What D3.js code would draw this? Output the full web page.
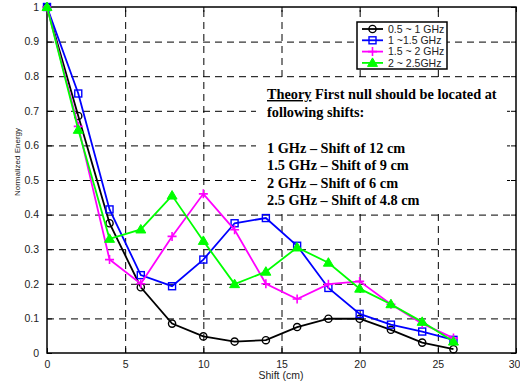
<!DOCTYPE html>
<html>
<head>
<meta charset="utf-8">
<script src="https://cdn.jsdelivr.net/npm/d3@7"></script>
<style>
  body { margin: 0; background: #fff; }
  svg { display: block; }
  .tick text { font-family: Arial, "Liberation Sans", sans-serif; font-size: 10.5px; fill: #222; }
  .grid line { stroke: #000; stroke-dasharray: 7 5; stroke-width: 1; }
  .grid path { display: none; }
  .note { font-family: "Liberation Serif", "Times New Roman", serif; font-weight: bold; font-size: 14.3px; fill: #000; }
  .legend text { font-family: Arial, "Liberation Sans", sans-serif; font-size: 10.5px; fill: #222; }
  .axis-label { font-family: Arial, "Liberation Sans", sans-serif; font-size: 10.5px; fill: #222; }
</style>
</head>
<body>
<svg id="chart" width="520" height="383"></svg>
<script>
const shifts = [0, 2, 4, 6, 8, 10, 12, 14, 16, 18, 20, 22, 24, 26];
const band05to1 = [1.0, 0.685, 0.375, 0.19, 0.085, 0.048, 0.033, 0.037, 0.075, 0.099, 0.099, 0.067, 0.03, 0.011];
const band1to15 = [1.0, 0.75, 0.415, 0.225, 0.193, 0.27, 0.375, 0.39, 0.31, 0.188, 0.113, 0.082, 0.062, 0.038];
const band15to2 = [1.0, 0.655, 0.27, 0.2, 0.337, 0.46, 0.356, 0.2, 0.156, 0.199, 0.207, 0.141, 0.085, 0.043];
const band2to25 = [1.0, 0.645, 0.33, 0.357, 0.455, 0.324, 0.199, 0.235, 0.305, 0.261, 0.186, 0.141, 0.09, 0.033];
const seriesNames = ['0.5 ~ 1 GHz', '1 ~1.5 GHz', '1.5 ~ 2 GHz', '2 ~ 2.5GHz'];
const xTicks = [0, 5, 10, 15, 20, 25, 30];
const yTicks = [0, 0.1, 0.2, 0.3, 0.4, 0.5, 0.6, 0.7, 0.8, 0.9, 1];
const noteLines = ['following shifts:', '', '1 GHz – Shift of 12 cm', '1.5 GHz – Shift of 9 cm', '2 GHz – Shift of 6 cm', '2.5 GHz – Shift of 4.8 cm'];

const styles = [
  { color: '#000000', marker: 'circle' },
  { color: '#0000ff', marker: 'square' },
  { color: '#ff00ff', marker: 'plus' },
  { color: '#00ff00', marker: 'triangle' }
];
const allSeries = [band05to1, band1to15, band15to2, band2to25];

const plotL = 47, plotR = 516, plotT = 7, plotB = 353;
const svg = d3.select('#chart');

const x = d3.scaleLinear().domain([0, 30]).range([plotL, plotR]);
const y = d3.scaleLinear().domain([0, 1]).range([plotB, plotT]);

// grid
svg.append('g').attr('class', 'grid')
  .attr('transform', `translate(0,${plotB})`)
  .call(d3.axisBottom(x).tickValues(xTicks.slice(1, -1)).tickSize(-(plotB - plotT)).tickFormat(() => ''));
svg.append('g').attr('class', 'grid')
  .attr('transform', `translate(${plotL},0)`)
  .call(d3.axisLeft(y).tickValues(yTicks.slice(1, -1)).tickSize(-(plotR - plotL)).tickFormat(() => ''));

// white box behind the theory note hides the grid there
svg.append('rect').attr('x', 256).attr('y', 79).attr('width', 251).attr('height', 133).attr('fill', '#fff');

// axes with inward ticks
function styleAxis(g) {
  g.select('.domain').remove();
  g.selectAll('.tick line').attr('stroke', '#000');
}
svg.append('g').attr('transform', `translate(0,${plotB})`)
  .call(d3.axisBottom(x).tickValues(xTicks).tickSizeInner(-5).tickSizeOuter(0).tickPadding(8).tickFormat(d3.format('d')))
  .call(styleAxis)
  .call(g => g.selectAll('.tick text').filter(d => d === 30).attr('dx', -2));
svg.append('g').attr('transform', `translate(0,${plotT})`)
  .call(d3.axisTop(x).tickValues(xTicks).tickSizeInner(-5).tickSizeOuter(0).tickFormat(() => ''))
  .call(styleAxis);
svg.append('g').attr('transform', `translate(${plotL},0)`)
  .call(d3.axisLeft(y).tickValues(yTicks).tickSizeInner(-5).tickSizeOuter(0).tickPadding(8).tickFormat(d => d === 0 || d === 1 ? d3.format('d')(d) : d3.format('.1f')(d)))
  .call(styleAxis);
svg.append('g').attr('transform', `translate(${plotR},0)`)
  .call(d3.axisRight(y).tickValues(yTicks).tickSizeInner(-5).tickSizeOuter(0).tickFormat(() => ''))
  .call(styleAxis);

// frame
svg.append('rect')
  .attr('x', plotL).attr('y', plotT)
  .attr('width', plotR - plotL).attr('height', plotB - plotT)
  .attr('fill', 'none').attr('stroke', '#000').attr('stroke-width', 1.5);

// axis labels
svg.append('text').attr('class', 'axis-label')
  .attr('x', 281).attr('y', 379)
  .attr('text-anchor', 'middle')
  .text('Shift (cm)');
svg.append('text').attr('class', 'axis-label')
  .attr('transform', 'translate(20,162) rotate(-90)')
  .attr('text-anchor', 'middle')
  .style('font-size', '8px')
  .text('Normalized Energy');

function drawMarker(g, kind, cx, cy, color) {
  if (kind === 'circle') {
    g.append('circle').attr('cx', cx).attr('cy', cy).attr('r', 3.6)
      .attr('fill', 'none').attr('stroke', color).attr('stroke-width', 1.4);
  } else if (kind === 'square') {
    g.append('rect').attr('x', cx - 3.5).attr('y', cy - 3.5).attr('width', 7).attr('height', 7)
      .attr('fill', 'none').attr('stroke', color).attr('stroke-width', 1.4);
  } else if (kind === 'plus') {
    g.append('path').attr('d', `M${cx - 4.5},${cy}H${cx + 4.5}M${cx},${cy - 4.5}V${cy + 4.5}`)
      .attr('stroke', color).attr('stroke-width', 1.6);
  } else {
    g.append('path').attr('d', `M${cx},${cy - 5}L${cx + 5},${cy + 3.5}L${cx - 5},${cy + 3.5}Z`)
      .attr('fill', color).attr('stroke', color).attr('stroke-width', 1);
  }
}

const line = d3.line().x(d => x(d[0])).y(d => y(d[1]));
allSeries.forEach((vals, i) => {
  const pts = shifts.map((s, j) => [s, vals[j]]);
  const g = svg.append('g');
  g.append('path').datum(pts).attr('d', line)
    .attr('fill', 'none').attr('stroke', styles[i].color).attr('stroke-width', 1.8);
  pts.forEach(p => drawMarker(g, styles[i].marker, x(p[0]), y(p[1]), styles[i].color));
});

// legend
const lg = svg.append('g').attr('class', 'legend');
lg.append('rect').attr('x', 357).attr('y', 22).attr('width', 90).attr('height', 47)
  .attr('fill', '#fff').attr('stroke', '#000').attr('stroke-width', 1.5);
seriesNames.forEach((name, i) => {
  const ly = 29 + i * 11.3;
  lg.append('line').attr('x1', 362).attr('x2', 383).attr('y1', ly).attr('y2', ly)
    .attr('stroke', styles[i].color).attr('stroke-width', 1.8);
  drawMarker(lg, styles[i].marker, 372.5, ly, styles[i].color);
  lg.append('text').attr('x', 388).attr('y', ly + 3.8).text(name);
});

// annotation
const note = svg.append('text').attr('class', 'note').attr('x', 267).attr('y', 99);
note.append('tspan').attr('text-decoration', 'underline').text('Theory');
note.append('tspan').text(' First null should be located at');
const noteY = [116.5, 134, 152.5, 170, 187.5, 205];
noteLines.forEach((t, i) => {
  if (t) svg.append('text').attr('class', 'note').attr('x', 267).attr('y', noteY[i]).text(t);
});
</script>
</body>
</html>
